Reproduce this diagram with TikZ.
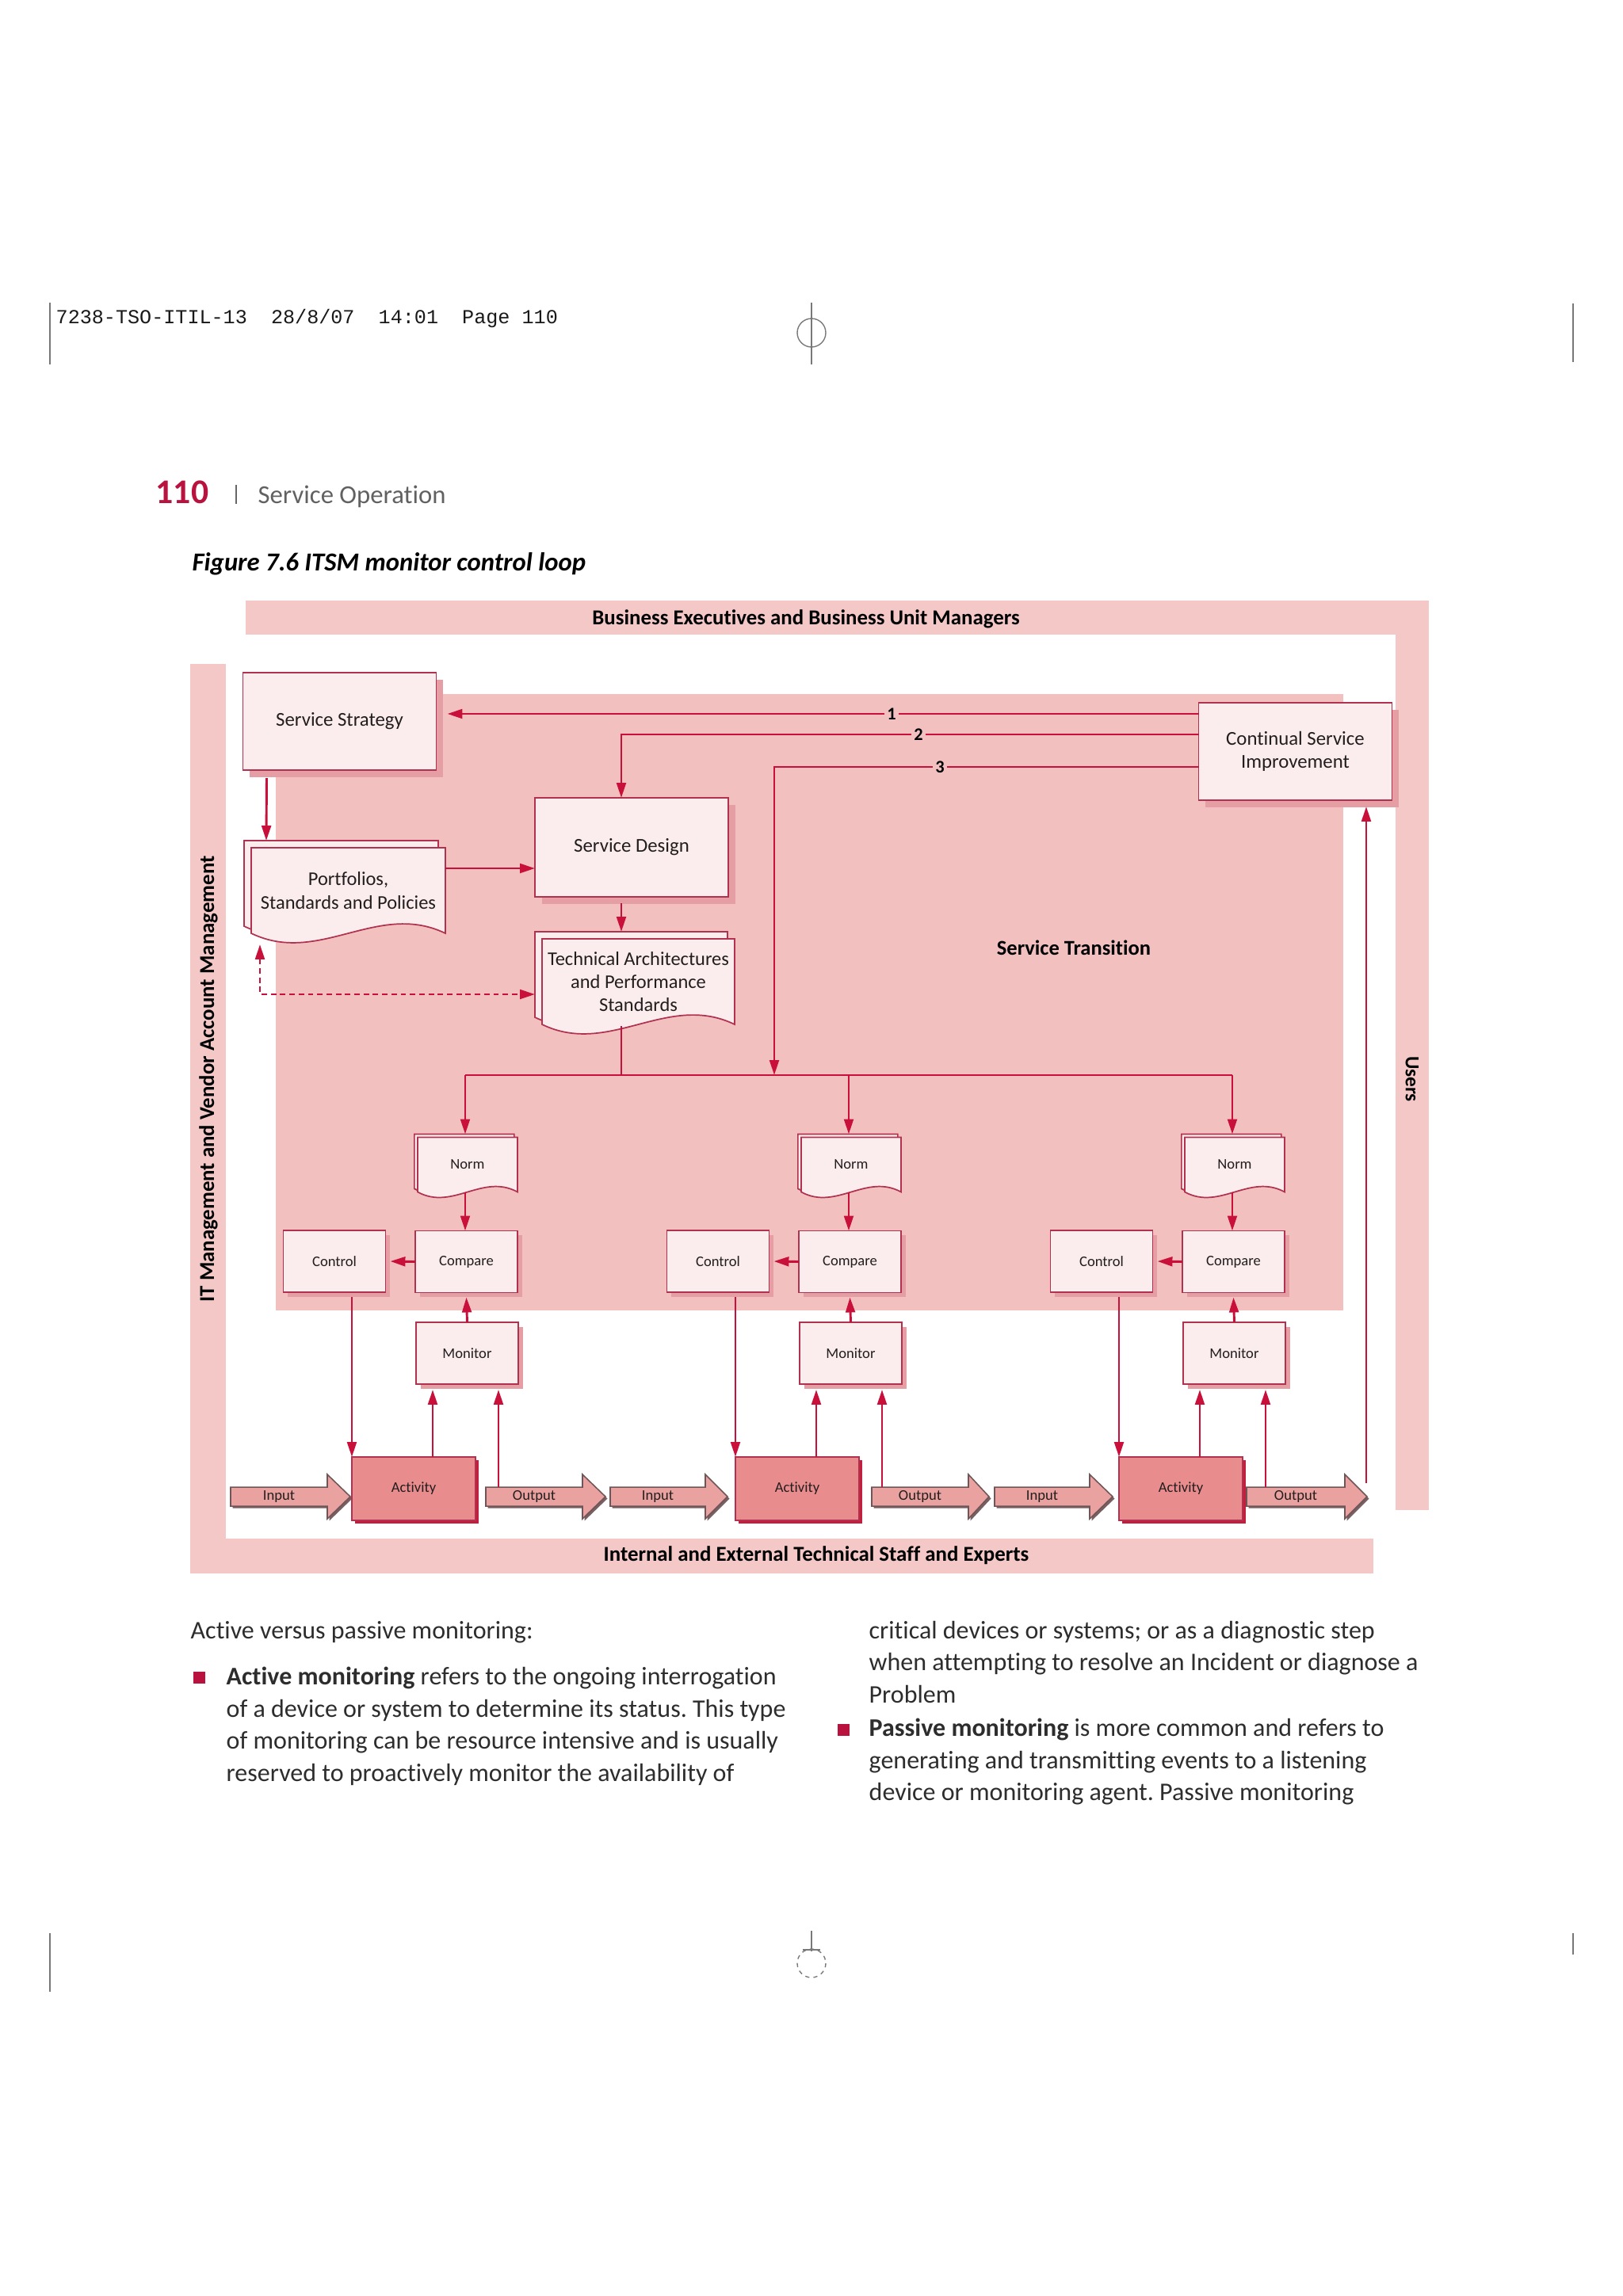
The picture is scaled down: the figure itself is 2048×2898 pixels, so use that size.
\documentclass[tikz,border=0pt]{standalone}
\usepackage{fontspec}
\setmainfont{Carlito}[Ligatures=NoCommon]
\newfontfamily\monof{Liberation Mono}
\usetikzlibrary{calc,arrows.meta,shadows}
\definecolor{band}{RGB}{243,200,198}
\definecolor{stc}{RGB}{242,193,191}
\definecolor{boxf}{RGB}{251,237,238}
\definecolor{bdr}{RGB}{176,50,78}
\definecolor{shc}{RGB}{229,158,163}
\definecolor{arr}{RGB}{200,16,58}
\definecolor{actf}{RGB}{233,140,142}
\definecolor{actsh}{RGB}{196,30,62}
\definecolor{iof}{RGB}{234,162,160}
\definecolor{iob}{RGB}{110,85,88}
\definecolor{iosh}{RGB}{120,95,98}
\definecolor{txt}{RGB}{35,30,30}
\definecolor{bodytxt}{RGB}{45,45,45}
\definecolor{crim}{RGB}{185,18,62}
\definecolor{markc}{RGB}{120,120,120}
\def\U{0.29055pt}
\pgfdeclarelayer{back}\pgfdeclarelayer{mid}\pgfsetlayers{back,mid,main}
\frenchspacing

% #1 node (front page), #2 wave amplitude, #3 offset of the back page
\newcommand\docshape[3]{%
 \path[docst] let \p1=(#1.north west), \p2=(#1.south east), \n1={\x2-\x1} in
   ({\x1-#3},{\y1+#3}) -- ({\x2-#3},{\y1+#3}) -- ({\x2-#3},{\y2+#3}) .. controls ({\x1-#3+0.65*\n1},{\y2+#3+#2}) and ({\x1-#3+0.35*\n1},{\y2+#3-#2}) .. ({\x1-#3},{\y2+#3}) -- cycle;
 \path[docst] let \p1=(#1.north west), \p2=(#1.south east), \n1={\x2-\x1} in
   (\x1,\y1) -- (\x2,\y1) -- (\x2,\y2) .. controls ({\x1+0.65*\n1},{\y2+#2}) and ({\x1+0.35*\n1},{\y2-#2}) .. (\x1,\y2) -- cycle;
}
\newcommand\ioarrow[5]{%
 \fill[iosh] (#2+2.5,1879.5) -- (#4+2.5,1879.5) -- (#4+2.5,1863.5) -- (#3+2.5,1891.5) -- (#4+2.5,1919.5) -- (#4+2.5,1903.5) -- (#2+2.5,1903.5) -- cycle;
 \filldraw[fill=iof, draw=iob, line width=0.45pt] (#2,1877) -- (#4,1877) -- (#4,1861) -- (#3,1889) -- (#4,1917) -- (#4,1901) -- (#2,1901) -- cycle;
 \node[iolbl, minimum width={(#4-#2)*\U}, minimum height={24*\U}] (#1) at ({(#2+#4)/2},1889) {#5};
}

\begin{document}
\begin{tikzpicture}[x=\U,y=-\U, font=\fontsize{7}{8.5}\selectfont, text=txt,
  box/.style={draw=bdr, fill=boxf, line width=0.5pt, inner sep=1pt, outer sep=0pt, align=center},
  bigbox/.style={box, font=\fontsize{7.2}{8.6}\selectfont, minimum width={244*\U}, minimum height={123*\U}, drop shadow={shadow xshift=2.6pt,shadow yshift=-2.6pt,opacity=1,fill=shc}},
  smallbox/.style={box, font=\fontsize{5.4}{6}\selectfont, minimum width={129*\U}, minimum height={78*\U}, drop shadow={shadow xshift=1.6pt,shadow yshift=-1.6pt,opacity=1,fill=shc}},
  docn/.style={inner sep=0pt, outer sep=0pt, align=center, font=\fontsize{7.1}{8.5}\selectfont},
  docst/.style={fill=boxf, draw=bdr, line width=0.5pt},
  act/.style={draw=bdr, fill=actf, line width=0.5pt, inner sep=0pt, outer sep=0pt, minimum width={156*\U}, minimum height={80*\U}, font=\fontsize{5.4}{6}\selectfont, drop shadow={shadow xshift=1.2pt,shadow yshift=-1.2pt,opacity=1,fill=actsh}},
  iolbl/.style={inner sep=0pt, outer sep=0pt, font=\fontsize{5.4}{6}\selectfont},
  conn/.style={draw=arr, line width=0.85pt, -{Triangle[length=5.5pt,width=3.4pt]}},
  dconn/.style={draw=arr, line width=0.85pt, dash pattern=on 2pt off 1.4pt, {Triangle[length=5.5pt,width=3.4pt]}-{Triangle[length=5.5pt,width=3.4pt]}},
  plain/.style={draw=arr, line width=0.85pt},
  bandlbl/.style={font=\bfseries\fontsize{7.8}{8}\selectfont, text=black, inner sep=0pt},
  numlbl/.style={font=\bfseries\fontsize{6.5}{7}\selectfont, text=black, fill=stc, inner sep=1pt},
  body/.style={anchor=base west, inner sep=0pt, font=\fontsize{9.3}{11}\selectfont, text=bodytxt},
  bullet/.style={fill=crim, minimum size={15*\U}, inner sep=0pt},
  markl/.style={draw=markc, line width=0.4pt}
]
\useasboundingbox (0,0) rectangle (2048,2898);

% ---------- background bands ----------
\begin{pgfonlayer}{back}
\fill[white] (0,0) rectangle (2048,2898);
\fill[band] (310,758) rectangle (1803,801);
\fill[band] (1761,758) rectangle (1803,1906);
\fill[band] (240,838) rectangle (285,1986);
\fill[band] (240,1942) rectangle (1733,1986);
\fill[stc] (348,876) rectangle (1695,1654);
\end{pgfonlayer}

% ---------- page furniture ----------
\draw[markl] (63,382) -- (63,460);
\draw[markl] (1985,383) -- (1985,457);
\draw[markl] (1024,382) -- (1024,460);
\draw[markl] (1024,420) circle[radius=18];
\draw[markl] (63,2440) -- (63,2514);
\draw[markl] (1985,2440) -- (1985,2467);
\draw[markl] (1024,2437) -- (1024,2463);
\draw[markl] (1013,2461) -- (1035,2461);
\draw[markl, dash pattern=on 1.5pt off 1.5pt] (1024,2478) circle[radius=18];
\node[anchor=base west, inner sep=0pt, font=\monof\fontsize{7.3}{8}\selectfont, text=black!90] (hdr) at (70,408) {7238-TSO-ITIL-13~~28/8/07~~14:01~~Page~110};
\node[anchor=base west, inner sep=0pt, font=\bfseries\fontsize{12.7}{14}\selectfont, text=crim] (pgno) at (196,635) {110};
\draw[draw=black!60, line width=0.5pt] (298,612) -- (298,636);
\node[anchor=base west, inner sep=0pt, font=\fontsize{9.5}{11}\selectfont, text=black!62] (chap) at (325,635) {Service Operation};
\node[anchor=base west, inner sep=0pt, font=\bfseries\itshape\fontsize{9.5}{11}\selectfont, text=black] (fig) at (242,720) {Figure 7.6 ITSM monitor control loop};

\node[bandlbl] (bizlbl) at (1017,781) {Business Executives and Business Unit Managers};
\node[bandlbl] (techlbl) at (1030,1963) {Internal and External Technical Staff and Experts};
\node[bandlbl, rotate=90] (itlbl) at (263,1362) {IT Management and Vendor Account Management};
\node[bandlbl, rotate=-90, font=\bfseries\fontsize{7.3}{8}\selectfont] (userlbl) at (1782,1362) {Users};
\node[bandlbl, font=\bfseries\fontsize{7.7}{8}\selectfont] (stlbl) at (1355,1196) {Service Transition};

% ---------- upper boxes ----------
\node[bigbox] (ss) at (428.5,910.5) {Service Strategy};
\node[bigbox] (csi) at (1634.5,948.5) {Continual Service\\Improvement};
\node[bigbox, minimum height={125*\U}] (sd) at (797,1069.5) {Service Design};
\node[docn, minimum width={245*\U}, minimum height={108*\U}] (pf) at (439.5,1124) {Portfolios,\\Standards and Policies};
\node[docn, minimum width={243*\U}, minimum height={108*\U}] (ta) at (805.5,1239) {Technical Architectures\\and Performance\\Standards};
\begin{pgfonlayer}{mid}
\docshape{pf}{12pt}{2.6pt}
\docshape{ta}{12pt}{2.6pt}
\end{pgfonlayer}

% ---------- input / output arrows ----------
\ioarrow{in1}{291}{442}{413}{Input}
\ioarrow{out1}{613}{764}{735}{Output}
\ioarrow{in2}{770}{918}{890}{Input}
\ioarrow{out2}{1100}{1248}{1222}{Output}
\ioarrow{in3}{1255}{1404}{1375}{Input}
\ioarrow{out3}{1573}{1725}{1697}{Output}

% ---------- control loops ----------
\foreach \i/\dx in {1/0,2/484,3/968}{
  \node[docn, minimum width={126*\U}, minimum height={69*\U}, font=\fontsize{5.4}{6}\selectfont] (norm\i) at (590+\dx,1470) {Norm};
  \begin{pgfonlayer}{mid}\docshape{norm\i}{7pt}{1.2pt}\end{pgfonlayer}
  \node[smallbox] (cmp\i) at (588.5+\dx,1592.5) {Compare};
  \node[smallbox] (ctl\i) at (422+\dx,1592) {Control};
  \node[smallbox] (mon\i) at (589.5+\dx,1708) {Monitor};
  \node[act] (act\i) at (522+\dx,1879) {Activity};
}
\foreach \i in {1,2,3}{
  \coordinate (nn\i) at ($(norm\i.north)+(-3,-4)$);
  \draw[conn] (nn\i |- 0,1357) -- (nn\i);
  \draw[conn] (nn\i |- norm\i.south) -- (nn\i |- cmp\i.north);
  \draw[conn] (cmp\i.west) -- ($(ctl\i.east)+(6,0)$);
  \draw[conn] (mon\i.north) -- ($(cmp\i.south)+(0,6)$);
  \coordinate (monb\i) at ($(mon\i.south)+(0,7)$);
  \draw[conn] (act\i.north west |- ctl\i.south) ++(0,6) -- (act\i.north west);
  \coordinate (am\i) at ($(act\i.north west)+(102,0)$);
  \draw[conn] (am\i) -- (am\i |- monb\i);
  \coordinate (om\i) at ($(mon\i.south east)+(-25,0)$);
  \draw[conn] (om\i |- out\i.north) -- (om\i |- monb\i);
}

% ---------- upper connectors ----------
\draw[conn] (csi.west |- 0,901) -- ($(ss.east |- 0,901)+(14,0)$);
\coordinate (sdn) at ($(sd.north)+(-13,0)$);
\draw[conn] (csi.west |- 0,927) -| (sdn);
\coordinate (dist3) at (977,1357);
\draw[conn] (csi.west |- 0,968) -| (dist3);
\node[numlbl] (n1) at (1125,901) {1};
\node[numlbl] (n2) at (1159,927) {2};
\node[numlbl] (n3) at (1186,968) {3};
\draw[conn] ($(ss.south west)+(30,10)$) -- ($(pf.north west)+(19,-9)$);
\coordinate (pfr) at ($(pf.north east)+(0,26)$);
\draw[conn] (pfr) -- (pfr -| sd.west);
\draw[conn] ($(sdn |- sd.south)+(0,8)$) -- ($(sdn |- ta.north)+(0,-9)$);
\coordinate (taw) at ($(ta.west)+(-9,0)$);
\draw[dconn] ($(pf.south west)+(11,14)$) |- (taw |- 0,1255);
\coordinate (tas) at ($(ta.south)+(-21.5,2)$);
\draw[plain] (tas) -- (tas |- 0,1357);
\draw[plain] (nn1 |- 0,1357) -- (nn3 |- 0,1357);
\coordinate (o3t) at ($(out3.east)+(27,-17)$);
\coordinate (csib) at ($(csi.south)+(0,8)$);
\draw[conn] (o3t) -- (o3t |- csib);

% ---------- body text ----------
\node[body] (t1) at (240,2068) {Active versus passive monitoring:};
\node[bullet] (b1) at (251.5,2117) {};
\node[body] (t2) at (285,2126) {\textbf{Active monitoring} refers to the ongoing interrogation};
\node[body] (t3) at (285,2167) {of a device or system to determine its status. This type};
\node[body] (t4) at (285,2207) {of monitoring can be resource intensive and is usually};
\node[body] (t5) at (285,2248) {reserved to proactively monitor the availability of};
\node[body] (r1) at (1096,2068) {critical devices or systems; or as a diagnostic step};
\node[body] (r2) at (1096,2108) {when attempting to resolve an Incident or diagnose a};
\node[body] (r3) at (1096,2149) {Problem};
\node[bullet] (b2) at (1064.5,2183) {};
\node[body] (r4) at (1096,2191) {\textbf{Passive monitoring} is more common and refers to};
\node[body] (r5) at (1096,2232) {generating and transmitting events to a listening};
\node[body] (r6) at (1096,2272) {device or monitoring agent. Passive monitoring};
\end{tikzpicture}
\end{document}
